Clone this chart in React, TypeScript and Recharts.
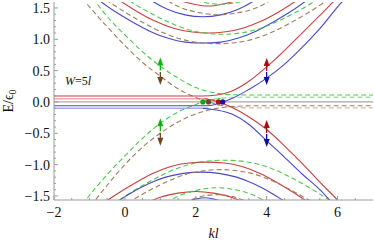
import React from 'react';
import { ComposedChart, Line, Scatter, XAxis, YAxis, ReferenceLine, ReferenceDot, Label } from 'recharts';

// tick positions (majors every 2 on x, every 0.5 on y)
const xTicks = [-2, -1.5, -1, -0.5, 0, 0.5, 1, 1.5, 2, 2.5, 3, 3.5, 4, 4.5, 5, 5.5, 6, 6.5];
const yTicks = [
  -1.5, -1.4, -1.3, -1.2, -1.1, -1, -0.9, -0.8, -0.7, -0.6, -0.5, -0.4, -0.3, -0.2, -0.1, 0,
  0.1, 0.2, 0.3, 0.4, 0.5, 0.6, 0.7, 0.8, 0.9, 1, 1.1, 1.2, 1.3, 1.4, 1.5,
];

// bulk subbands, upper half  [kl, E/eps0]
const blueBand1 = [[-0.8, 1.65], [-0.3, 1.45], [0.2, 1.28], [0.7, 1.13], [1.2, 1.02], [1.7, 0.955], [2.2, 0.94], [2.7, 0.955], [3.2, 1.02], [3.7, 1.13], [4.2, 1.28], [4.7, 1.45], [5.2, 1.65]];
const brownBand1 = [[-0.9, 1.78], [-0.4, 1.58], [0.1, 1.4], [0.6, 1.24], [1.1, 1.1], [1.6, 1.0], [2.1, 0.945], [2.6, 0.93], [3.1, 0.945], [3.6, 1.0], [4.1, 1.1], [4.6, 1.24], [5.1, 1.4], [5.6, 1.58], [6.1, 1.78]];
const redBand1 = [[-0.15, 1.62], [0.35, 1.44], [0.85, 1.29], [1.35, 1.18], [1.85, 1.12], [2.35, 1.1], [2.85, 1.12], [3.35, 1.18], [3.85, 1.29], [4.35, 1.44], [4.85, 1.62]];
const greenBand1 = [[-0.25, 1.75], [0.25, 1.57], [0.75, 1.41], [1.25, 1.27], [1.75, 1.16], [2.25, 1.1], [2.75, 1.08], [3.25, 1.1], [3.75, 1.16], [4.25, 1.27], [4.75, 1.41], [5.25, 1.57], [5.75, 1.75]];
const blueBand2 = [[0.4, 1.76], [0.8, 1.6], [1.2, 1.48], [1.7, 1.39], [2.2, 1.36], [2.7, 1.39], [3.2, 1.48], [3.6, 1.6], [4.0, 1.76]];
const brownBand2 = [[0.85, 1.76], [1.25, 1.6], [1.65, 1.49], [2.15, 1.42], [2.65, 1.39], [3.15, 1.42], [3.65, 1.49], [4.05, 1.6], [4.45, 1.76]];
const redBand2 = [[1.15, 1.74], [1.55, 1.62], [1.95, 1.56], [2.35, 1.53], [2.75, 1.56], [3.15, 1.62], [3.55, 1.74]];
const greenBand2 = [[1.6, 1.72], [2.0, 1.62], [2.35, 1.575], [2.7, 1.56], [3.05, 1.575], [3.4, 1.62], [3.8, 1.72]];

// bulk subbands, lower half
const redBandLow1 = [[-0.7, -1.65], [-0.2, -1.46], [0.3, -1.29], [0.8, -1.14], [1.3, -1.03], [1.8, -0.975], [2.3, -0.96], [2.8, -0.975], [3.3, -1.03], [3.8, -1.14], [4.3, -1.29], [4.8, -1.46], [5.3, -1.65]];
const greenBandLow1 = [[-0.7, -1.78], [-0.2, -1.58], [0.3, -1.4], [0.8, -1.24], [1.3, -1.1], [1.8, -1.0], [2.3, -0.945], [2.8, -0.93], [3.3, -0.945], [3.8, -1.0], [4.3, -1.1], [4.8, -1.24], [5.3, -1.4], [5.8, -1.58], [6.3, -1.78]];
const blueBandLow1 = [[-0.35, -1.64], [0.15, -1.46], [0.65, -1.31], [1.15, -1.2], [1.65, -1.14], [2.15, -1.12], [2.65, -1.14], [3.15, -1.2], [3.65, -1.31], [4.15, -1.46], [4.65, -1.64]];
const brownBandLow1 = [[-0.3, -1.75], [0.2, -1.57], [0.7, -1.41], [1.2, -1.27], [1.7, -1.16], [2.2, -1.1], [2.7, -1.08], [3.2, -1.1], [3.7, -1.16], [4.2, -1.27], [4.7, -1.41], [5.2, -1.57], [5.7, -1.75]];
const redBandLow2 = [[0.2, -1.76], [0.6, -1.62], [1.0, -1.52], [1.5, -1.455], [2.0, -1.43], [2.5, -1.455], [3.0, -1.52], [3.4, -1.62], [3.8, -1.76]];
const greenBandLow2 = [[0.8, -1.76], [1.2, -1.6], [1.6, -1.48], [2.1, -1.4], [2.6, -1.37], [3.1, -1.4], [3.6, -1.48], [4.0, -1.6], [4.4, -1.76]];
const brownBandLow2 = [[1.3, -1.74], [1.7, -1.61], [2.15, -1.51], [2.6, -1.48], [3.05, -1.51], [3.5, -1.61], [3.9, -1.74]];
const blueBandLow2 = [[1.3, -1.7], [1.7, -1.6], [2.0, -1.55], [2.25, -1.53], [2.5, -1.55], [2.8, -1.6], [3.2, -1.7]];

// edge states (solid)
const redUp = [[-2, 0.095], [1, 0.095], [2.2, 0.095], [2.6, 0.11], [3.0, 0.17], [3.5, 0.33], [4.0, 0.56], [4.5, 0.82], [5.0, 1.1], [5.5, 1.38], [5.85, 1.58], [6.0, 1.67]];
const pinkFlat = [[-2, 0.05], [1, 0.05], [2.35, 0.05]];
const redDown = [[2.25, 0.05], [2.45, 0.03], [2.64, 0], [3.0, -0.08], [3.5, -0.24], [4.0, -0.44], [4.5, -0.7], [5.0, -0.98], [5.5, -1.28], [6.05, -1.6], [6.2, -1.7]];
const blueUp = [[-2, -0.06], [1, -0.06], [2.3, -0.06], [2.55, -0.04], [2.76, 0], [3.0, 0.05], [3.5, 0.2], [4.0, 0.38], [4.5, 0.6], [5.0, 0.87], [5.5, 1.17], [6.1, 1.58], [6.3, 1.7]];
const lightBlueFlat = [[-2, -0.1], [1, -0.1], [2.35, -0.1]];
const blueDown = [[2.2, -0.1], [2.6, -0.13], [3.0, -0.19], [3.5, -0.36], [4.0, -0.62], [4.5, -0.88], [5.0, -1.15], [5.5, -1.4], [5.8, -1.58], [6.0, -1.7]];

// edge states (dashed)
const greenFromTop = [[-0.9, 1.66], [-0.8, 1.58], [-0.4, 1.3], [0, 1.07], [0.5, 0.8], [1, 0.57], [1.5, 0.38], [2, 0.23], [2.5, 0.15], [3, 0.115], [3.5, 0.11], [7, 0.11]];
const greenFromBottom = [[-1.2, -1.64], [-1.12, -1.58], [-0.5, -1.16], [0, -0.86], [0.5, -0.58], [1, -0.34], [1.5, -0.16], [2, -0.04], [2.2, 0], [2.5, 0.04], [2.7, 0.055]];
const lightGreenFlat = [[2.5, 0.045], [3, 0.07], [3.5, 0.075], [7, 0.075]];
const brownFromTop = [[-1.2, 1.66], [-1.09, 1.58], [-0.5, 1.2], [0, 0.9], [0.5, 0.63], [1, 0.41], [1.5, 0.21], [2, 0.07], [2.36, 0], [2.6, -0.04], [2.8, -0.06]];
const lightBrownFlat = [[2.6, -0.045], [3.1, -0.085], [3.6, -0.095], [7, -0.095]];
const brownFromBottom = [[-0.95, -1.66], [-0.85, -1.58], [-0.5, -1.33], [0, -1.0], [0.5, -0.72], [1, -0.5], [1.5, -0.32], [2, -0.19], [2.5, -0.11], [3, -0.075], [3.5, -0.062], [7, -0.06]];

// zero crossings and spin arrows (arrow tip positions)
const greenDot = [[2.2, 0]];
const brownDot = [[2.36, 0]];
const redDot = [[2.64, 0]];
const blueDot = [[2.76, 0]];
const greenArrowTips = [[1, 0.71], [1, -0.26]];
const brownArrowTips = [[1, 0.27], [1, -0.7]];
const redArrowTips = [[4, 0.7], [4, -0.29]];
const blueArrowTips = [[4, 0.27], [4, -0.72]];

const pts = (a: number[][]) => a.map(([k, E]) => ({ k, E }));

const RED = '#c84040';
const BLUE = '#4848c8';
const GREEN = '#4cc84c';
const BROWN = '#a07c5a';
const PINK = '#eaa8a8';
const LBLUE = '#aaaae6';
const LGREEN = '#a8e2a8';
const LBROWN = '#d0bca8';
const FRAME = '#9a9a9a';
const FONT = '"Liberation Serif", "DejaVu Serif", serif';
const DASH = '5 3';

const curves = [
  { d: pinkFlat, c: PINK, w: 1.6 },
  { d: lightBlueFlat, c: LBLUE, w: 1.6 },
  { d: lightGreenFlat, c: LGREEN, w: 1.4, dash: true },
  { d: lightBrownFlat, c: LBROWN, w: 1.4, dash: true },
  { d: blueBand1, c: BLUE }, { d: brownBand1, c: BROWN, dash: true },
  { d: redBand1, c: RED }, { d: greenBand1, c: GREEN, dash: true },
  { d: blueBand2, c: BLUE }, { d: brownBand2, c: BROWN, dash: true },
  { d: redBand2, c: RED }, { d: greenBand2, c: GREEN, dash: true },
  { d: redBandLow1, c: RED }, { d: greenBandLow1, c: GREEN, dash: true },
  { d: blueBandLow1, c: BLUE }, { d: brownBandLow1, c: BROWN, dash: true },
  { d: redBandLow2, c: RED }, { d: greenBandLow2, c: GREEN, dash: true },
  { d: brownBandLow2, c: BROWN, dash: true }, { d: blueBandLow2, c: BLUE },
  { d: greenFromTop, c: GREEN, dash: true },
  { d: greenFromBottom, c: GREEN, dash: true },
  { d: brownFromTop, c: BROWN, dash: true },
  { d: brownFromBottom, c: BROWN, dash: true },
  { d: redUp, c: RED }, { d: redDown, c: RED },
  { d: blueUp, c: BLUE }, { d: blueDown, c: BLUE },
];

const minus = (s: string) => s.replace('-', '\u2212');

const BottomTick = (p: any) => {
  const v = p.payload.value;
  const major = Math.abs(v / 2 - Math.round(v / 2)) < 1e-6;
  return (
    <g>
      <line x1={p.x} y1={p.y} x2={p.x} y2={p.y - (major ? 4 : 2)} stroke={FRAME} />
      {major && (
        <text x={p.x} y={p.y + 17} textAnchor="middle" fontFamily={FONT} fontSize={14} fill="#111">
          {minus(v.toFixed(0))}
        </text>
      )}
    </g>
  );
};

const TopTick = (p: any) => {
  const v = p.payload.value;
  const major = Math.abs(v / 2 - Math.round(v / 2)) < 1e-6;
  return <line x1={p.x} y1={p.y} x2={p.x} y2={p.y + (major ? 4 : 2)} stroke={FRAME} />;
};

const LeftTick = (p: any) => {
  const v = p.payload.value;
  const major = Math.abs(v * 2 - Math.round(v * 2)) < 1e-6;
  return (
    <g>
      <line x1={p.x} y1={p.y} x2={p.x + (major ? 4 : 2)} y2={p.y} stroke={FRAME} />
      {major && (
        <text x={p.x - 4} y={p.y + 5} textAnchor="end" fontFamily={FONT} fontSize={14} fill="#111">
          {minus(v.toFixed(1))}
        </text>
      )}
    </g>
  );
};

const RightTick = (p: any) => {
  const v = p.payload.value;
  const major = Math.abs(v * 2 - Math.round(v * 2)) < 1e-6;
  return <line x1={p.x} y1={p.y} x2={p.x - (major ? 4 : 2)} y2={p.y} stroke={FRAME} />;
};

const arrow = (color: string, up: boolean) => (p: any) => {
  const { cx, cy } = p;
  const s = up ? 1 : -1;
  return (
    <g>
      <line x1={cx} y1={cy + s * 6} x2={cx} y2={cy + s * 13} stroke={color} strokeWidth={1.3} />
      <polygon points={`${cx},${cy} ${cx - 3},${cy + s * 8} ${cx + 3},${cy + s * 8}`} fill={color} />
    </g>
  );
};

const dot = (color: string) => (p: any) => <circle cx={p.cx} cy={p.cy} r={2.6} fill={color} />;

const YLabel = (p: any) => {
  const vb = p.viewBox;
  const x = vb.x + 13;
  const y = vb.y + vb.height / 2;
  return (
    <text x={x} y={y} transform={`rotate(-90, ${x}, ${y})`} textAnchor="middle" fontFamily={FONT} fontSize={14} fill="#111">
      E/ϵ<tspan fontSize={10} dy={3}>0</tspan>
    </text>
  );
};

const XLabel = (p: any) => {
  const vb = p.viewBox;
  return (
    <text x={vb.x + vb.width / 2} y={vb.y + 38} textAnchor="middle" fontFamily={FONT} fontSize={14} fontStyle="italic" fill="#111">
      kl
    </text>
  );
};

const WLabel = (p: any) => (
  <text x={p.cx} y={p.cy} fontFamily={FONT} fontSize={12} fill="#111">
    <tspan fontStyle="italic">W</tspan>
    <tspan>=5</tspan>
    <tspan fontStyle="italic">l</tspan>
  </text>
);

export default function App() {
  return (
    <div style={{ position: 'absolute', left: 0, top: 0, background: '#fff' }}>
      <ComposedChart width={374} height={243} margin={{ top: 2, right: 1, bottom: 0, left: 0 }}>
        <XAxis
          type="number" dataKey="k" domain={[-2, 7]} allowDataOverflow ticks={xTicks} interval={0}
          height={43} tickSize={0} tickMargin={0} tickLine={false} tick={BottomTick}
          axisLine={{ stroke: FRAME }}
        >
          <Label content={XLabel} />
        </XAxis>
        <XAxis
          xAxisId="t" orientation="top" type="number" domain={[-2, 7]} allowDataOverflow ticks={xTicks}
          interval={0} height={0} tickSize={0} tickMargin={0} tickLine={false} tick={TopTick}
          axisLine={{ stroke: FRAME }}
        />
        <YAxis
          type="number" dataKey="E" domain={[-1.565, 1.595]} allowDataOverflow ticks={yTicks} interval={0}
          width={54} tickSize={0} tickMargin={0} tickLine={false} tick={LeftTick}
          axisLine={{ stroke: FRAME }}
        >
          <Label content={YLabel} />
        </YAxis>
        <YAxis
          yAxisId="r" orientation="right" type="number" domain={[-1.565, 1.595]} allowDataOverflow
          ticks={yTicks} interval={0} width={0} tickSize={0} tickMargin={0} tickLine={false}
          tick={RightTick} axisLine={{ stroke: FRAME }}
        />
        <ReferenceLine y={0} stroke="#a8a8a8" strokeWidth={1.2} />
        {curves.map((s, i) => (
          <Line
            key={i}
            data={pts(s.d)}
            dataKey="E"
            type="monotone"
            stroke={s.c}
            strokeWidth={s.w ?? 1.1}
            strokeDasharray={s.dash ? DASH : undefined}
            dot={false}
            activeDot={false}
            isAnimationActive={false}
          />
        ))}
        <Scatter data={pts(greenDot)} dataKey="E" shape={dot('#18a018')} isAnimationActive={false} />
        <Scatter data={pts(brownDot)} dataKey="E" shape={dot('#6e4a2a')} isAnimationActive={false} />
        <Scatter data={pts(redDot)} dataKey="E" shape={dot('#b41010')} isAnimationActive={false} />
        <Scatter data={pts(blueDot)} dataKey="E" shape={dot('#1010b4')} isAnimationActive={false} />
        <Scatter data={pts(greenArrowTips)} dataKey="E" shape={arrow('#10b010', true)} isAnimationActive={false} />
        <Scatter data={pts(brownArrowTips)} dataKey="E" shape={arrow('#70461e', false)} isAnimationActive={false} />
        <Scatter data={pts(redArrowTips)} dataKey="E" shape={arrow('#a80c0c', true)} isAnimationActive={false} />
        <Scatter data={pts(blueArrowTips)} dataKey="E" shape={arrow('#0c0ca8', false)} isAnimationActive={false} />
        <ReferenceDot x={-1.69} y={0.27} r={0} shape={WLabel} />
      </ComposedChart>
    </div>
  );
}
